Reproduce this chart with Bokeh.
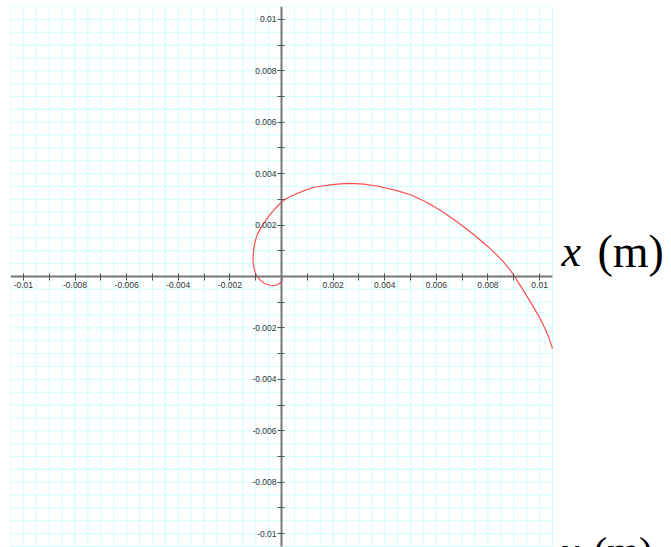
from bokeh.plotting import figure
from bokeh.models import Range1d, FixedTicker, Label
from bokeh.embed import file_html
from bokeh.resources import INLINE

# trajectory (m)
x_vals = [0.0, 0.00003, 0.00001, -0.00008, -0.00019, -0.00030, -0.00044, -0.00056,
          -0.00070, -0.00082, -0.00093, -0.00101, -0.00107, -0.00110, -0.00110, -0.00108,
          -0.00105, -0.00101, -0.00093, -0.00082, -0.00069, -0.00050, -0.00030, -0.00011,
          0.00009, 0.00034, 0.00061, 0.00093, 0.00126, 0.00158, 0.00190, 0.00226,
          0.00262, 0.0032, 0.0038, 0.0044, 0.0050, 0.0056, 0.0062, 0.0068,
          0.0074, 0.0080, 0.0083, 0.0086, 0.0088, 0.0090, 0.0092, 0.0094,
          0.0096, 0.0098, 0.0100, 0.0102, 0.01035, 0.0105]
y_vals = [0.0, -0.00009, -0.00019, -0.00027, -0.00033, -0.00035, -0.00034, -0.00031,
          -0.00024, -0.00014, -0.00002, 0.00012, 0.00035, 0.00056, 0.00076, 0.00100,
          0.00120, 0.00141, 0.00164, 0.00186, 0.00207, 0.00234, 0.00258, 0.00278,
          0.00297, 0.00311, 0.00323, 0.00336, 0.00347, 0.00352, 0.00356, 0.00360,
          0.00362, 0.00359, 0.00350, 0.00336, 0.00318, 0.00290, 0.00255, 0.00213,
          0.00167, 0.00116, 0.00088, 0.00057, 0.00033, 0.00005, -0.00027, -0.00059,
          -0.00092, -0.00125, -0.00160, -0.00200, -0.00235, -0.00280]

tick_values = [-0.01, -0.008, -0.006, -0.004, -0.002, 0.002, 0.004, 0.006, 0.008, 0.01]
tick_labels = ["-0.01", "-0.008", "-0.006", "-0.004", "-0.002",
               "0.002", "0.004", "0.006", "0.008", "0.01"]
minor_tick_values = [-0.009, -0.007, -0.005, -0.003, -0.001,
                     0.001, 0.003, 0.005, 0.007, 0.009]
grid_step = 0.0005
axis_min, axis_max = -0.0105, 0.0105

# geometry (pixels)
grid_w_px, grid_h_px = 542, 540
frame_w, frame_h = 661, 541
unit_x = (axis_max - axis_min) / grid_w_px
unit_y = (axis_max - axis_min) / grid_h_px
x_end = axis_min + frame_w * unit_x
y_bottom = axis_max - frame_h * unit_y

p = figure(frame_width=frame_w, frame_height=frame_h,
           x_range=Range1d(axis_min, x_end), y_range=Range1d(y_bottom, axis_max),
           output_backend="svg", toolbar_location=None,
           min_border_left=10, min_border_right=0, min_border_top=6, min_border_bottom=0,
           background_fill_color="white", border_fill_color="white",
           outline_line_color=None)
p.xgrid.visible = False
p.ygrid.visible = False

# square grid, restricted to the plotting square
n = int(round((axis_max - axis_min) / grid_step))
gl = [axis_min + k * grid_step for k in range(n + 1)]
p.segment(x0=gl, y0=[axis_min] * len(gl), x1=gl, y1=[axis_max] * len(gl),
          line_color="#ccffff", line_width=1)
p.segment(x0=[axis_min] * len(gl), y0=gl, x1=[axis_max] * len(gl), y1=gl,
          line_color="#ccffff", line_width=1)

overrides = {v: lab for v, lab in zip(tick_values, tick_labels)}
for ax in (p.xaxis[0], p.yaxis[0]):
    ax.fixed_location = 0
    ax.bounds = (axis_min, axis_max)
    ax.ticker = FixedTicker(ticks=tick_values, minor_ticks=minor_tick_values)
    ax.major_label_overrides = overrides
    ax.axis_line_color = "#777777"
    ax.axis_line_width = 2
    ax.major_tick_line_color = "#555555"
    ax.minor_tick_line_color = "#555555"
    ax.major_tick_in = 3
    ax.major_tick_out = 4
    ax.minor_tick_in = 3
    ax.minor_tick_out = 4
    ax.major_label_text_font = "Liberation Sans"
    ax.major_label_text_font_size = "8.5px"
    ax.major_label_text_color = "#333333"
    ax.major_label_standoff = 1

p.line(x_vals, y_vals, line_color="#ff4d4d", line_width=1.2)

lab_kw = dict(x_units="data", y_units="data", text_font="Liberation Serif",
              text_color="black", text_baseline="alphabetic", text_align="left")
p.add_layout(Label(x=0.01085, y=0.00097, text="x", text_font_style="italic",
                   text_font_size="44px", **lab_kw))
p.add_layout(Label(x=0.01224, y=0.00097, text="(m)", text_font_style="normal",
                   text_font_size="46px", **lab_kw))
p.add_layout(Label(x=0.01085, y=-0.01069, text="y", text_font_style="italic",
                   text_font_size="40px", **lab_kw))
p.add_layout(Label(x=0.01209, y=-0.01069, text="(m)", text_font_style="normal",
                   text_font_size="41px", **lab_kw))

open("out.html", "w").write(file_html(p, INLINE))
